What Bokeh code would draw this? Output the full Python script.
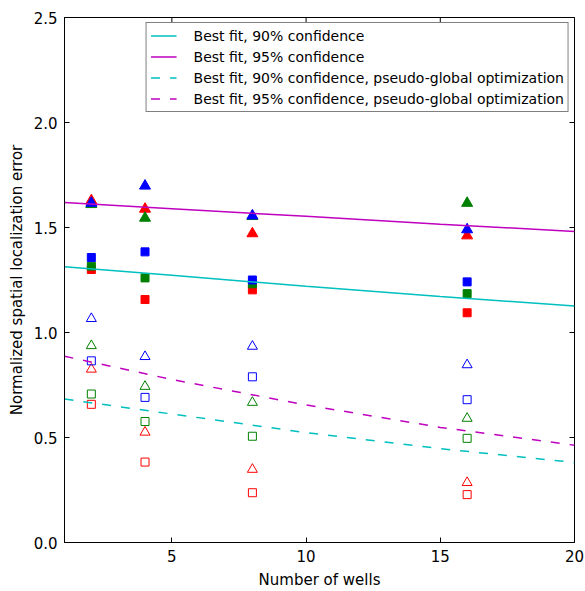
import math
from bokeh.plotting import figure
from bokeh.models import FixedTicker, NumeralTickFormatter, Range1d
from bokeh.embed import file_html
from bokeh.resources import INLINE

# ---- data ----
wells = [2, 4, 8, 16]

blue_tri = [1.616, 1.698, 1.556, 1.490]
green_tri = [1.610, 1.545, 1.553, 1.616]
red_tri = [1.628, 1.588, 1.471, 1.461]

blue_sq = [1.357, 1.384, 1.250, 1.241]
green_sq = [1.316, 1.260, 1.232, 1.185]
red_sq = [1.300, 1.157, 1.203, 1.094]

blue_tri_open = [1.066, 0.885, 0.934, 0.846]
green_tri_open = [0.937, 0.743, 0.667, 0.591]
red_tri_open = [0.825, 0.525, 0.348, 0.285]

blue_sq_open = [0.865, 0.691, 0.789, 0.680]
green_sq_open = [0.707, 0.576, 0.506, 0.496]
red_sq_open = [0.658, 0.383, 0.237, 0.228]

fit_x = [1, 5, 10, 15, 20]
fit90 = [1.313, 1.273, 1.220, 1.172, 1.126]
fit95 = [1.619, 1.589, 1.553, 1.516, 1.481]
fit90_pg = [0.683, 0.612, 0.523, 0.447, 0.381]
fit95_pg = [0.887, 0.776, 0.655, 0.548, 0.463]

x_min, x_max = 1, 20
y_min, y_max = 0.0, 2.5
x_ticks = [5, 10, 15, 20]
y_ticks = [0.0, 0.5, 1.0, 1.5, 2.0, 2.5]

BLUE, GREEN, RED = "#0000ff", "#008000", "#ff0000"
CYAN, MAGENTA = "#00bfbf", "#bf00bf"
FONT = "DejaVu Sans"

p = figure(width=585, height=591, x_range=Range1d(x_min, x_max), y_range=Range1d(y_min, y_max),
           output_backend="svg", toolbar_location=None,
           min_border_left=64, min_border_right=11, min_border_top=17, min_border_bottom=47)
p.xgrid.visible = False
p.ygrid.visible = False
p.outline_line_color = "black"
p.outline_line_width = 1
p.outline_line_alpha = 1
p.background_fill_color = "white"
p.border_fill_color = "white"

# markers: red, green, blue order (blue on top)
for col, tri, sq, tri_o, sq_o in [
    (RED, red_tri, red_sq, red_tri_open, red_sq_open),
    (GREEN, green_tri, green_sq, green_tri_open, green_sq_open),
    (BLUE, blue_tri, blue_sq, blue_tri_open, blue_sq_open),
]:
    p.scatter(wells, tri, marker="triangle", size=11, fill_color=col, line_color=col, line_width=1)
    p.scatter(wells, sq, marker="square", size=8, fill_color=col, line_color=col, line_width=1)
    p.scatter(wells, tri_o, marker="triangle", size=10, fill_color=None, line_color=col, line_width=1)
    p.scatter(wells, sq_o, marker="square", size=8, fill_color=None, line_color=col, line_width=1)

p.line(fit_x, fit90, line_color=CYAN, line_width=1.5, legend_label="Best fit, 90% confidence")
p.line(fit_x, fit95, line_color=MAGENTA, line_width=1.5, legend_label="Best fit, 95% confidence")
p.line(fit_x, fit90_pg, line_color=CYAN, line_width=1.5, line_dash="9 10",
       legend_label="Best fit, 90% confidence, pseudo-global optimization")
p.line(fit_x, fit95_pg, line_color=MAGENTA, line_width=1.5, line_dash="9 10",
       legend_label="Best fit, 95% confidence, pseudo-global optimization")

# tick marks on the top and right edges (half of each dash is clipped by the frame)
p.scatter(x_ticks, [y_max] * len(x_ticks), marker="dash", size=10, angle=math.pi / 2,
          line_color="black", line_width=1)
p.scatter([x_max] * len(y_ticks), y_ticks, marker="dash", size=10,
          line_color="black", line_width=1)

# axes
for ax, ticks in ((p.xaxis[0], x_ticks), (p.yaxis[0], y_ticks)):
    ax.ticker = FixedTicker(ticks=ticks)
    ax.minor_tick_line_color = None
    ax.major_tick_in = 5
    ax.major_tick_out = 0
    ax.major_tick_line_color = "black"
    ax.major_tick_line_width = 1
    ax.axis_line_color = "black"
    ax.axis_line_width = 1
    ax.major_label_text_font = FONT
    ax.major_label_text_color = "black"
    ax.major_label_text_font_size = "15px"
    ax.major_label_standoff = 7
    ax.axis_label_text_font = FONT
    ax.axis_label_text_font_size = "15px"
    ax.axis_label_text_font_style = "normal"
    ax.axis_label_text_color = "black"

p.yaxis[0].formatter = NumeralTickFormatter(format="0.0")
p.xaxis[0].axis_label = "Number of wells"
p.yaxis[0].axis_label = "Normalized spatial localization error"
p.xaxis[0].axis_label_standoff = 6
p.yaxis[0].axis_label_standoff = 5

leg = p.legend[0]
leg.location = "top_right"
leg.margin = 5
leg.padding = 4
leg.spacing = 4
leg.glyph_width = 26
leg.glyph_height = 17
leg.label_height = 17
leg.label_standoff = 17
leg.label_text_font = FONT
leg.label_text_font_size = "14px"
leg.label_text_color = "black"
leg.border_line_color = "black"
leg.border_line_width = 1
leg.background_fill_alpha = 1

open("out.html", "w").write(file_html(p, INLINE))
